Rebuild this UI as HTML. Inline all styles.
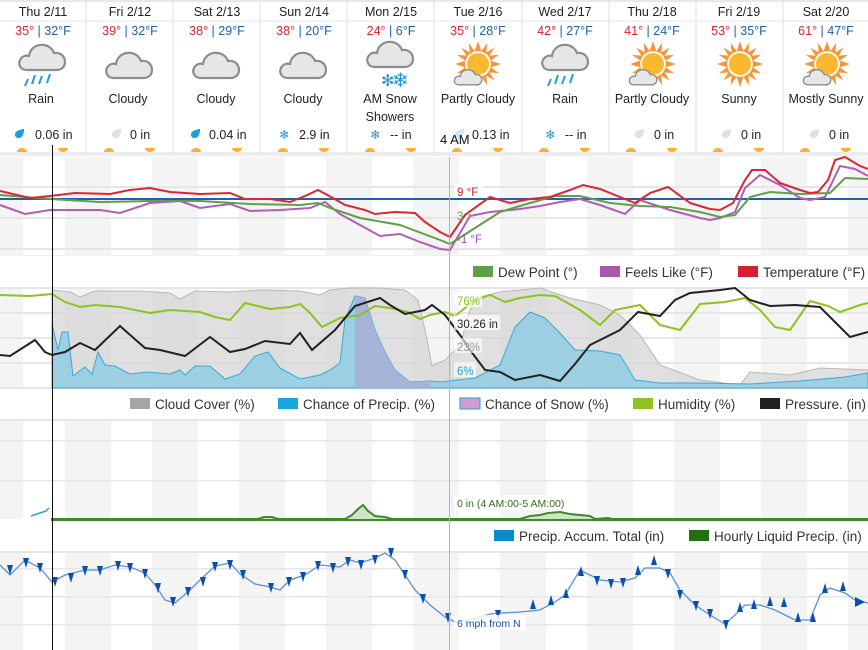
<!DOCTYPE html>
<html><head><meta charset="utf-8"><style>
html,body{margin:0;padding:0;background:#fff;}
svg{display:block;font-family:"Liberation Sans",Arial,sans-serif;}
</style></head><body>
<svg width="868" height="650" viewBox="0 0 868 650" xmlns="http://www.w3.org/2000/svg">
<defs>
<symbol id="cloud" viewBox="0 0 50 32"><path d="M10 29 C3 29 1 23 3 19 C5 15 9 14 12 15 C13 7 20 3 27 4 C33 5 36 9 37 12 C43 11 48 15 48 21 C48 26 44 29 40 29 Z" fill="#e6e6e6" stroke="#8c8c8c" stroke-width="2.2"/></symbol>
<symbol id="sun" viewBox="0 0 50 50"><g fill="#f7943a"><polygon points="25,0 29,12 21,12"/><polygon points="25,50 29,38 21,38"/><polygon points="0,25 12,21 12,29"/><polygon points="50,25 38,21 38,29"/><polygon points="7,7 17,13 13,17"/><polygon points="43,43 33,37 37,33"/><polygon points="43,7 37,17 33,13"/><polygon points="7,43 13,33 17,37"/><polygon points="15,2 22,12 16,14"/><polygon points="35,48 28,38 34,36"/><polygon points="2,35 12,28 14,34"/><polygon points="48,15 38,22 36,16"/><polygon points="35,2 34,14 28,12"/><polygon points="15,48 16,36 22,38"/><polygon points="2,15 14,16 12,22"/><polygon points="48,35 36,34 38,28"/></g><circle cx="25" cy="25" r="13" fill="#fcb930" stroke="#fff" stroke-width="2"/></symbol>
<symbol id="drop" viewBox="0 0 12 12"><path d="M11 1 C11 7 9 11 5 11 C2 11 1 9 1 7 C1 4 5 2 11 1Z"/></symbol>
</defs>

<!-- header -->
<rect x="0" y="0" width="868" height="2" fill="#e8e8e8"/>
<rect x="0" y="20.5" width="868" height="1" fill="#e4e4e4"/>
<rect x="0" y="152" width="868" height="4" fill="#ececec"/>
<g fill="#e2e2e2">
<rect x="85.5" y="0" width="1" height="155"/><rect x="172.5" y="0" width="1" height="155"/><rect x="259.5" y="0" width="1" height="155"/><rect x="346.5" y="0" width="1" height="155"/><rect x="433.5" y="0" width="1" height="155"/><rect x="521.5" y="0" width="1" height="155"/><rect x="608.5" y="0" width="1" height="155"/><rect x="695.5" y="0" width="1" height="155"/><rect x="782.5" y="0" width="1" height="155"/>
</g>
<g font-size="12.5" fill="#222" text-anchor="middle">
<text x="43" y="16">Thu 2/11</text><text x="130" y="16">Fri 2/12</text><text x="217" y="16">Sat 2/13</text><text x="304" y="16">Sun 2/14</text><text x="391" y="16">Mon 2/15</text><text x="478" y="16">Tue 2/16</text><text x="565" y="16">Wed 2/17</text><text x="652" y="16">Thu 2/18</text><text x="739" y="16">Fri 2/19</text><text x="826" y="16">Sat 2/20</text>
</g>
<g font-size="12.5" text-anchor="middle" fill="#2060b0">
<text x="43" y="35"><tspan fill="#e02030">35°</tspan> | 32°F</text>
<text x="130" y="35"><tspan fill="#e02030">39°</tspan> | 32°F</text>
<text x="217" y="35"><tspan fill="#e02030">38°</tspan> | 29°F</text>
<text x="304" y="35"><tspan fill="#e02030">38°</tspan> | 20°F</text>
<text x="391" y="35"><tspan fill="#e02030">24°</tspan> | 6°F</text>
<text x="478" y="35"><tspan fill="#e02030">35°</tspan> | 28°F</text>
<text x="565" y="35"><tspan fill="#e02030">42°</tspan> | 27°F</text>
<text x="652" y="35"><tspan fill="#e02030">41°</tspan> | 24°F</text>
<text x="739" y="35"><tspan fill="#e02030">53°</tspan> | 35°F</text>
<text x="826" y="35"><tspan fill="#e02030">61°</tspan> | 47°F</text>
</g>
<!-- icons -->
<use href="#cloud" x="17" y="41" width="50" height="32"/>
<g stroke="#1ea0dc" stroke-width="2"><line x1="28" y1="79" x2="25" y2="86"/><line x1="35" y1="75" x2="32" y2="84"/><line x1="42" y1="76" x2="39" y2="84"/><line x1="50" y1="74" x2="47" y2="83"/></g>
<use href="#cloud" x="104" y="49" width="50" height="32"/>
<use href="#cloud" x="191" y="49" width="50" height="32"/>
<use href="#cloud" x="278" y="49" width="50" height="32"/>
<use href="#cloud" x="365" y="38" width="50" height="32"/>
<text x="381" y="86" font-size="16" fill="#1e96dc">✻</text><text x="392" y="87" font-size="20" fill="#1e96dc">❄</text>
<use href="#sun" x="455" y="41" width="46" height="46"/><use href="#cloud" x="453" y="67" width="30" height="20"/>
<use href="#cloud" x="540" y="41" width="50" height="32"/>
<g stroke="#1ea0dc" stroke-width="2"><line x1="551" y1="79" x2="548" y2="86"/><line x1="558" y1="75" x2="555" y2="84"/><line x1="565" y1="76" x2="562" y2="84"/><line x1="573" y1="74" x2="570" y2="83"/></g>
<use href="#sun" x="630" y="41" width="46" height="46"/><use href="#cloud" x="628" y="67" width="30" height="20"/>
<use href="#sun" x="717" y="41" width="46" height="46"/>
<use href="#sun" x="804" y="41" width="46" height="46"/><use href="#cloud" x="802" y="67" width="30" height="20"/>
<g font-size="12.5" fill="#222" text-anchor="middle">
<text x="41" y="103">Rain</text><text x="128" y="103">Cloudy</text><text x="216" y="103">Cloudy</text><text x="303" y="103">Cloudy</text><text x="390" y="103">AM Snow</text><text x="390" y="121">Showers</text><text x="478" y="103">Partly Cloudy</text><text x="565" y="103">Rain</text><text x="652" y="103">Partly Cloudy</text><text x="739" y="103">Sunny</text><text x="826" y="103">Mostly Sunny</text>
</g>
<g font-size="12.5" fill="#222">
<use href="#drop" x="14" y="128" width="11" height="11" fill="#1ea0dc"/><text x="35" y="139">0.06 in</text>
<use href="#drop" x="111" y="128" width="11" height="11" fill="#e0e0e0"/><text x="130" y="139">0 in</text>
<use href="#drop" x="190" y="128" width="11" height="11" fill="#1ea0dc"/><text x="209" y="139">0.04 in</text>
<text x="279" y="139" fill="#1e96dc">❄</text><text x="299" y="139">2.9 in</text>
<text x="370" y="139" fill="#1e96dc">❄</text><text x="390" y="139">-- in</text>
<use href="#drop" x="454" y="128" width="11" height="11" fill="#cfe6f5"/><text x="472" y="139">0.13 in</text>
<text x="545" y="139" fill="#1e96dc">❄</text><text x="565" y="139">-- in</text>
<use href="#drop" x="634" y="128" width="11" height="11" fill="#e0e0e0"/><text x="654" y="139">0 in</text>
<use href="#drop" x="721" y="128" width="11" height="11" fill="#e0e0e0"/><text x="741" y="139">0 in</text>
<use href="#drop" x="809" y="128" width="11" height="11" fill="#e0e0e0"/><text x="829" y="139">0 in</text>
<text x="440" y="144" font-size="13" fill="#111">4 AM</text>
</g>
<g fill="#fbb12c">
<path d="M17 152 a5 4 0 0 1 10 0z"/><path d="M58 148 h10 a5 4 0 0 1 -10 0z"/>
<path d="M104 152 a5 4 0 0 1 10 0z"/><path d="M145 148 h10 a5 4 0 0 1 -10 0z"/>
<path d="M191 152 a5 4 0 0 1 10 0z"/><path d="M232 148 h10 a5 4 0 0 1 -10 0z"/>
<path d="M278 152 a5 4 0 0 1 10 0z"/><path d="M319 148 h10 a5 4 0 0 1 -10 0z"/>
<path d="M365 152 a5 4 0 0 1 10 0z"/><path d="M406 148 h10 a5 4 0 0 1 -10 0z"/>
<path d="M452 152 a5 4 0 0 1 10 0z"/><path d="M493 148 h10 a5 4 0 0 1 -10 0z"/>
<path d="M539 152 a5 4 0 0 1 10 0z"/><path d="M580 148 h10 a5 4 0 0 1 -10 0z"/>
<path d="M626 152 a5 4 0 0 1 10 0z"/><path d="M667 148 h10 a5 4 0 0 1 -10 0z"/>
<path d="M713 152 a5 4 0 0 1 10 0z"/><path d="M754 148 h10 a5 4 0 0 1 -10 0z"/>
<path d="M800 152 a5 4 0 0 1 10 0z"/><path d="M841 148 h10 a5 4 0 0 1 -10 0z"/>
</g>

<!-- chart background bands -->
<g fill="#f4f4f4">
<g id="bands">
<rect x="0" y="157" width="23" height="99"/><rect x="65" y="157" width="46" height="99"/><rect x="152" y="157" width="46" height="99"/><rect x="239" y="157" width="46" height="99"/><rect x="326" y="157" width="46" height="99"/><rect x="413" y="157" width="46" height="99"/><rect x="500" y="157" width="46" height="99"/><rect x="587" y="157" width="46" height="99"/><rect x="674" y="157" width="46" height="99"/><rect x="761" y="157" width="46" height="99"/><rect x="848" y="157" width="20" height="99"/>
</g>
<use href="#bands" y="131"/><use href="#bands" y="263"/><use href="#bands" y="395"/>
</g>
<g fill="#e6e6e6">
<rect x="0" y="186" width="868" height="2"/><rect x="0" y="217" width="868" height="2"/><rect x="0" y="248" width="868" height="2"/><rect x="0" y="255" width="868" height="2" fill="#f0f0f0"/>
<rect x="0" y="287" width="868" height="2"/><rect x="0" y="312" width="868" height="2"/><rect x="0" y="337" width="868" height="2"/><rect x="0" y="362" width="868" height="2"/><rect x="0" y="387" width="868" height="2"/>
<rect x="0" y="419" width="868" height="2"/><rect x="0" y="440" width="868" height="1.5"/><rect x="0" y="480" width="868" height="1.5"/>
<rect x="0" y="551" width="868" height="2"/><rect x="0" y="568" width="868" height="1.5"/><rect x="0" y="596" width="868" height="1.5"/><rect x="0" y="624" width="868" height="1.5"/>
</g>
<rect x="0" y="256" width="868" height="30" fill="#fff"/><rect x="0" y="389" width="868" height="30" fill="#fff"/><rect x="0" y="521" width="868" height="30" fill="#fff"/>
<rect x="0" y="287" width="868" height="2" fill="#e6e6e6"/><rect x="0" y="387" width="868" height="2" fill="#e6e6e6"/><rect x="0" y="419" width="868" height="2" fill="#e6e6e6"/><rect x="0" y="551" width="868" height="2" fill="#e6e6e6"/>

<!-- temp chart -->
<line x1="0" y1="199" x2="868" y2="199" stroke="#1f5fb0" stroke-width="2"/>
<polyline fill="none" stroke="#b25eb5" stroke-width="2" points="0,205 25,214 50,210 70,210 100,210 120,213 150,203 180,201 200,208 230,204 250,211 280,210 310,208 325,202 340,214 360,225 380,236 400,234 420,242 440,249 450,250 470,216 490,212 520,209 540,206 560,202 580,199 600,205 625,214 640,200 670,210 700,218 710,220 720,218 735,212 745,188 760,175 780,185 800,198 810,200 825,197 840,166 855,169 868,176"/>
<polyline fill="none" stroke="#5ea04a" stroke-width="2" points="0,195 50,199 100,202 150,201 200,201 250,204 300,205 318,203 330,208 360,218 400,225 440,240 450,244 475,228 500,212 530,203 555,196 580,196 610,203 640,206 670,207 700,212 720,217 735,215 750,197 770,192 800,194 830,193 845,178 868,179"/>
<polyline fill="none" stroke="#dd2533" stroke-width="2" points="0,191 30,198 50,196 75,193 110,194 130,190 150,188 170,192 200,194 230,193 245,199 270,199 290,202 305,196 318,190 333,198 345,205 365,210 375,214 395,212 415,213 425,222 440,232 450,237 465,215 490,197 510,203 530,199 550,197 570,190 583,185 600,189 620,197 635,203 650,193 668,187 690,203 710,209 720,210 733,203 745,180 752,170 765,170 780,183 800,190 810,193 818,192 828,180 835,160 845,157 860,166 868,169"/>
<g font-size="11.5"><rect x="454" y="184" width="30" height="14" fill="#fff" opacity=".8"/><text x="457" y="196" fill="#d02030">9 °F</text><text x="457" y="220" fill="#5ea04a">3 °</text><text x="457" y="243" fill="#a050a8">-1 °F</text></g>

<!-- legend 1 -->
<g font-size="13.5" fill="#333">
<rect x="473" y="266" width="20" height="11" fill="#5ea04a"/><text x="498" y="277">Dew Point (°)</text>
<rect x="600" y="266" width="20" height="11" fill="#a959a7"/><text x="625" y="277">Feels Like (°F)</text>
<rect x="738" y="266" width="20" height="11" fill="#d42030"/><text x="763" y="277">Temperature (°F)</text>
</g>

<!-- chart 2 -->
<polygon fill="#d6d6d6" fill-opacity=".75" stroke="#b8b8b8" stroke-width="1" points="52,388 52,290 70,292 80,297 95,291 140,291 170,293 180,299 195,291 230,292 260,290 300,291 320,295 330,290 350,288 380,288 405,290 418,300 425,330 432,366 445,360 460,345 470,310 480,297 500,292 540,288 570,298 600,305 620,315 640,335 660,365 700,380 740,385 750,372 790,375 820,368 868,370 868,388"/>
<polygon fill="#8fcde2" fill-opacity=".85" stroke="#3aa8d8" stroke-width="1" points="52,388 52,324 58,350 62,332 68,332 73,376 85,367 92,374 98,352 105,365 115,366 130,374 147,372 170,374 180,370 185,375 195,366 210,366 225,379 240,374 255,356 268,352 280,368 300,379 320,375 330,370 340,363 345,320 355,296 365,298 375,330 385,352 395,370 410,382 430,381 440,382 475,378 500,365 515,327 530,312 545,318 560,333 575,350 600,351 620,355 635,380 660,383 700,383 750,384 800,381 845,377 868,373 868,388"/>
<polygon fill="#aab0d6" fill-opacity=".9" points="355,388 355,296 365,298 375,330 385,352 395,370 410,382 430,381 430,388"/>
<polyline fill="none" stroke="#8dc21f" stroke-width="2" points="0,295 30,296 52,294 65,302 80,307 95,305 120,307 150,313 170,310 200,312 215,317 230,320 245,303 270,309 290,307 300,304 310,313 322,327 340,318 360,315 375,306 390,308 408,312 420,319 430,315 445,312 455,316 475,300 490,295 505,302 520,298 540,295 555,296 580,310 600,325 615,310 640,305 660,325 680,330 700,304 725,302 745,298 760,310 775,327 790,330 810,301 828,306 840,312 860,305 868,303"/>
<polyline fill="none" stroke="#222" stroke-width="2" points="0,355 10,356 35,340 45,352 52,355 65,352 80,343 95,350 120,326 145,348 160,350 185,356 210,337 230,352 245,349 265,341 290,344 300,333 312,350 335,330 355,306 380,298 390,305 405,314 425,310 432,305 445,315 460,335 470,350 485,370 500,372 515,380 540,375 560,381 575,364 590,345 620,330 638,312 660,316 675,300 690,293 720,290 735,288 750,300 770,306 795,305 820,307 835,322 850,337 868,332"/>
<g font-size="11.5">
<rect x="454" y="292" width="28" height="15" fill="#fff" opacity=".7"/><text x="457" y="305" fill="#8dc21f">76%</text>
<rect x="454" y="315" width="46" height="15" fill="#fff" opacity=".7"/><text x="457" y="328" fill="#222">30.26 in</text>
<rect x="454" y="338" width="28" height="15" fill="#fff" opacity=".6"/><text x="457" y="351" fill="#999">23%</text>
<rect x="454" y="362" width="22" height="15" fill="#fff" opacity=".6"/><text x="457" y="375" fill="#2aa0d8">6%</text>
</g>

<!-- legend 2 -->
<g font-size="13.5" fill="#333">
<rect x="130" y="398" width="20" height="11" fill="#a6a6a6"/><text x="155" y="409">Cloud Cover (%)</text>
<rect x="278" y="398" width="20" height="11" fill="#1aa6dc"/><text x="303" y="409">Chance of Precip. (%)</text>
<rect x="460" y="398" width="20" height="11" fill="#d49bcc" stroke="#1aa6dc" stroke-width="1"/><text x="485" y="409">Chance of Snow (%)</text>
<rect x="633" y="398" width="20" height="11" fill="#8dc21f"/><text x="658" y="409">Humidity (%)</text>
<rect x="760" y="398" width="20" height="11" fill="#222"/><text x="785" y="409">Pressure. (in)</text>
</g>

<!-- chart 3 -->
<polygon fill="#cfe3c6" stroke="#3d8a2a" stroke-width="2" points="52,519 258,519 264,517 272,517 278,519 345,519 352,515 358,509 363,505 368,511 375,516 385,517 392,519 520,519 530,516 540,515 548,513 560,512 570,514 590,516 595,519 608,518 612,519 868,519 868,520 52,520"/>
<polyline fill="none" stroke="#2a9fd0" stroke-width="1.5" points="31,516 40,513 46,511 49,508"/>
<rect x="454" y="495" width="120" height="15" fill="#fff" opacity=".8"/>
<text x="457" y="507" font-size="10.5" fill="#3d6a20">0 in (4 AM:00-5 AM:00)</text>

<!-- legend 3 -->
<g font-size="13.5" fill="#333">
<rect x="494" y="530" width="20" height="11" fill="#0a8cc4"/><text x="519" y="541">Precip. Accum. Total (in)</text>
<rect x="689" y="530" width="20" height="11" fill="#217012"/><text x="714" y="541">Hourly Liquid Precip. (in)</text>
</g>

<!-- chart 4 wind -->
<polyline fill="none" stroke="#5b8fd6" stroke-width="1.3" points="0,565 10,575 25,560 40,568 52,582 65,575 85,570 100,570 115,565 130,567 145,573 155,585 165,600 175,603 190,590 200,580 215,566 230,563 240,574 255,584 270,587 280,590 290,580 305,575 320,565 340,567 350,560 360,563 375,558 385,553 395,560 405,575 415,590 430,605 445,617 455,622 470,620 490,614 500,613 520,612 540,610 555,602 565,595 580,570 600,580 620,582 635,578 645,568 660,568 670,573 680,590 695,605 710,615 725,624 735,615 745,605 760,605 775,610 795,620 810,620 820,595 830,588 845,593 855,600 868,603"/>
<g fill="#0b4fae">
<polygon points="7,565 13,565 10,575"/><polygon points="23,558 29,558 26,568"/><polygon points="37,563 43,563 40,573"/><polygon points="52,577 58,577 55,587"/><polygon points="68,573 74,573 71,583"/><polygon points="82,566 88,566 85,576"/><polygon points="97,566 103,566 100,576"/><polygon points="115,561 121,561 118,571"/><polygon points="127,563 133,563 130,573"/><polygon points="142,569 148,569 145,579"/><polygon points="155,583 161,583 158,593"/><polygon points="170,597 176,597 173,607"/><polygon points="185,587 191,587 188,597"/><polygon points="200,577 206,577 203,587"/><polygon points="212,562 218,562 215,572"/><polygon points="227,560 233,560 230,570"/><polygon points="240,570 246,570 243,580"/><polygon points="268,583 274,583 271,593"/><polygon points="286,577 292,577 289,587"/><polygon points="300,572 306,572 303,582"/><polygon points="315,561 321,561 318,571"/><polygon points="330,563 336,563 333,573"/><polygon points="345,557 351,557 348,567"/><polygon points="358,560 364,560 361,570"/><polygon points="372,555 378,555 375,565"/><polygon points="388,548 394,548 391,558"/><polygon points="402,570 408,570 405,580"/><polygon points="420,594 426,594 423,604"/><polygon points="445,613 451,613 448,623"/>
<polygon points="495,610 501,610 498,620"/><polygon points="530,609 536,609 533,599"/><polygon points="548,605 554,605 551,595"/><polygon points="563,598 569,598 566,588"/><polygon points="578,576 584,576 581,566"/><polygon points="594,576 600,576 597,586"/><polygon points="608,579 614,579 611,589"/><polygon points="620,578 626,578 623,588"/><polygon points="635,575 641,575 638,565"/><polygon points="651,565 657,565 654,555"/><polygon points="665,569 671,569 668,579"/><polygon points="677,590 683,590 680,600"/><polygon points="693,601 699,601 696,611"/><polygon points="707,609 713,609 710,619"/><polygon points="723,620 729,620 726,630"/><polygon points="737,612 743,612 740,602"/><polygon points="751,609 757,609 754,599"/><polygon points="767,606 773,606 770,596"/><polygon points="781,607 787,607 784,597"/><polygon points="795,622 801,622 798,612"/><polygon points="810,622 816,622 813,612"/><polygon points="822,593 828,593 825,583"/><polygon points="840,591 846,591 843,581"/><polygon points="855,597 855,607 865,602"/>
</g>
<rect x="454" y="615" width="72" height="15" fill="#fff" opacity=".8"/>
<text x="457" y="627" font-size="10.5" fill="#1a4f9e">6 mph from N</text>

<!-- cursor lines -->
<line x1="52.5" y1="145" x2="52.5" y2="650" stroke="#111" stroke-width="1"/>
<line x1="449.5" y1="157" x2="449.5" y2="650" stroke="#f4a070" stroke-width="1"/>
</svg>
</body></html>
